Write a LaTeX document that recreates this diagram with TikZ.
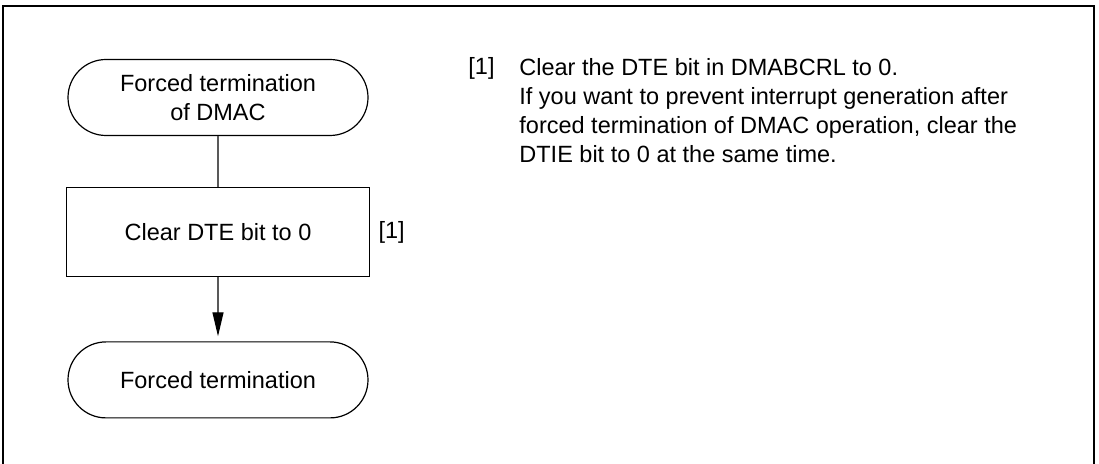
\documentclass[tikz,border=0pt]{standalone}
\usepackage{fontspec}
\setmainfont{Liberation Sans}
\usepackage{tikz}
\usetikzlibrary{positioning,arrows.meta}

\begin{document}
\begin{tikzpicture}[x=0.5pt, y=-0.5pt,
  term/.style={draw, line width=0.6pt, rounded corners=19pt, minimum width=150pt, minimum height=38pt, align=center, inner sep=0pt},
  proc/.style={draw, line width=0.6pt, minimum width=151.5pt, minimum height=44.5pt, align=center, inner sep=0pt},
  arr/.style={-{Triangle[length=12pt, width=5.5pt, color=black]}, line width=0.6pt, black!65},
  every node/.style={font=\fontsize{11.75}{14.5}\selectfont}
]
\clip (0,0) rectangle (1099,464);
\draw[line width=0.75pt] (3,6) rectangle (1094,480);
\node[term, text depth=0pt] (start) at (218,97.5) {Forced termination\\ of DMAC};
\node[proc, below=25.5pt of start] (clear) {Clear DTE bit to 0};
\node[term, below=32pt of clear] (stop) {Forced termination};
\node[anchor=west, inner sep=0pt, right=4pt of clear] (tag) {[1]};
\node[anchor=base west, inner sep=0pt] (note) at (468,75) {[1]};
\node[anchor=north west, inner sep=0pt, align=left] (notetext) at (519,58) {Clear the DTE bit in DMABCRL to 0.\\ If you want to prevent interrupt generation after\\ forced termination of DMAC operation, clear the\\ DTIE bit to 0 at the same time.};
\draw[line width=0.6pt, black!65] (start) -- (clear);
\draw[arr, shorten >=2.5pt] (clear) -- (stop);
\end{tikzpicture}
\end{document}
